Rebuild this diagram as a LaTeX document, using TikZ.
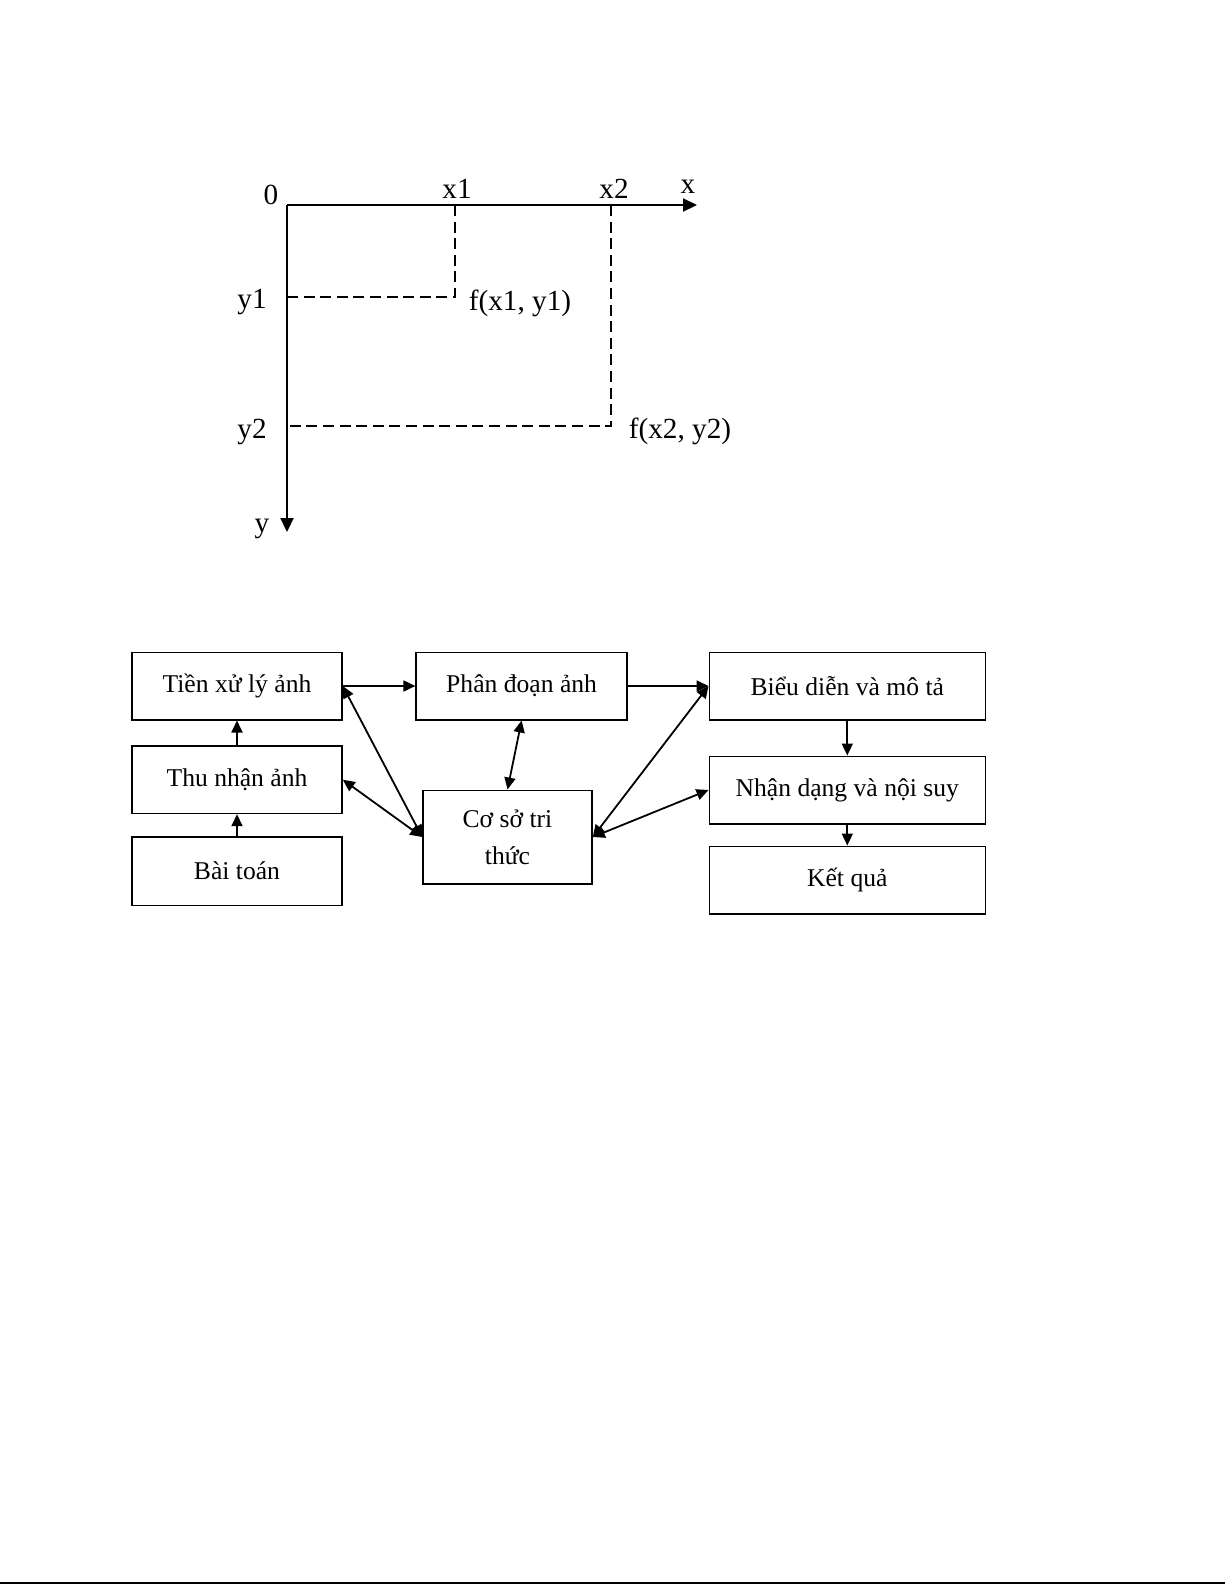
\documentclass[tikz,border=0pt]{standalone}
\usepackage{fontspec}
\setmainfont{Liberation Serif}
\usetikzlibrary{arrows.meta, backgrounds, positioning}

\begin{document}
\begin{tikzpicture}[
            x=0.5pt, y=-0.5pt,
            background rectangle/.style={fill=white},
            inner frame sep=0pt,
            show background rectangle,
            on grid,
            >={Triangle[length=6pt, width=5.5pt]},
            line width=0.9pt
        ]

        \tikzstyle{box}=[
            draw,
            line width=0.8pt,
            shape=rectangle,
            inner sep=0pt,
            minimum width=105pt,
            minimum height=33.7pt,
            align=center,
            font=\fontsize{12.8}{18.7}\selectfont
        ]
        \tikzstyle{lbl}=[
            inner sep=0pt,
            anchor=base,
            font=\fontsize{14.6}{17}\selectfont
        ]
        \tikzstyle{axis}=[line width=1.1pt, -{Triangle[length=7pt, width=6.5pt]}]
        \tikzstyle{guide}=[line width=0.7pt, dash pattern=on 5.5pt off 2.8pt]

        \useasboundingbox (0,0) rectangle (1225,1585);

        % He toa do anh
        \coordinate (o) at (287,205);
        \coordinate (xend) at (697,205);
        \coordinate (yend) at (287,532);
        \coordinate (p1) at (455,297);
        \coordinate (p2) at (611,426);

        \draw[axis] (o) -- (xend);
        \draw[axis] (o) -- (yend);
        \draw[guide] (o -| p1) -- (p1) -- (o |- p1);
        \draw[guide] (o -| p2) -- (p2) -- (o |- p2);

        \node[lbl] (zero) at (271,204) {0};
        \node[lbl] (lx1) at (457,198) {x1};
        \node[lbl] (lx2) at (614,198) {x2};
        \node[lbl] (lx) at (688,193) {x};
        \node[lbl] (ly1) at (252,308) {y1};
        \node[lbl] (ly2) at (252,438) {y2};
        \node[lbl] (ly) at (262,532) {y};
        \node[lbl, anchor=base west] (f1) at (468,310) {f(x1, y1)};
        \node[lbl, anchor=base west] (f2) at (628,438) {f(x2, y2)};

        % Cac buoc xu ly anh
        \node[box] (tien) at (237,686) {Tiền xử lý ảnh};
        \node[box] (thu) [below=46.85pt of tien] {Thu nhận ảnh};
        \node[box, minimum height=34.2pt] (bai) [below=45.75pt of thu] {Bài toán};
        \node[box, minimum width=105.4pt] (phan) [right=142.3pt of tien] {Phân đoạn ảnh};
        \node[box, minimum width=138pt] (bieu) [right=162.85pt of phan] {Biểu diễn và mô tả};
        \node[box, minimum width=138pt] (nhan) [below=52pt of bieu] {Nhận dạng và nội suy};
        \node[box, minimum width=138pt] (ket) [below=45pt of nhan] {Kết quả};
        \node[box, minimum width=84.5pt, minimum height=46.7pt] (coso) [below left=75.5pt and 7.05pt of phan] {Cơ sở tri\\thức};

        \path[->] (bai) edge node {} (thu);
        \path[->] (thu) edge node {} (tien);
        \path[->] (tien) edge node {} (phan);
        \path[->] (phan) edge node {} (bieu);
        \path[->] (bieu) edge node {} (nhan);
        \path[->] (nhan) edge node {} (ket);

        % Co so tri thuc noi voi moi buoc
        \path[<->] (tien.east) edge node {} (coso.west);
        \path[<->] (thu.east) edge node {} (coso.west);
        \path[<->] (phan.south) edge node {} (coso.north);
        \path[<->] (bieu.west) edge node {} (coso.east);
        \path[<->] (nhan.west) edge node {} (coso.east);

        % Vien cuoi trang
        \coordinate (rl) at (0,1583);
        \coordinate (rr) at (1225,1583);
        \draw[line width=0.7pt] (rl) -- (rr);

    \end{tikzpicture}
\end{document}
